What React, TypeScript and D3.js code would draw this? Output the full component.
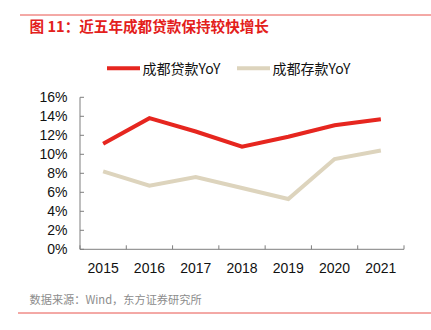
import React from "react";
import * as d3 from "d3";

const years = ["2015", "2016", "2017", "2018", "2019", "2020", "2021"];
const loanYoY = [11.1, 13.8, 12.4, 10.8, 11.85, 13.05, 13.7];
const depositYoY = [8.2, 6.7, 7.6, 6.45, 5.3, 9.5, 10.4];
const yTicks = [0, 2, 4, 6, 8, 10, 12, 14, 16];
const seriesNames = ["成都贷款YoY", "成都存款YoY"];

const W = 431;
const H = 330;
const left = 80;
const right = 404;
const top = 97.3;
const bottom = 249.3;
const RED = "#e6261f";
const BEIGE = "#ddd4bd";
const FONT = "'Liberation Sans', Arial, sans-serif";
const CJK = "'Noto Sans CJK SC', 'Liberation Sans', sans-serif";

export default function App() {
  const x = d3.scaleBand<string>().domain(years).range([left, right]);
  const y = d3.scaleLinear().domain([0, 16]).range([bottom, top]);
  const line = d3
    .line<number>()
    .x((_, i) => (x(years[i]) as number) + x.bandwidth() / 2)
    .y((d) => y(d));

  return (
    <svg width={W} height={H} style={{ position: "absolute", left: 0, top: 0, background: "#fff" }}>
      <line x1={20} x2={431} y1={15} y2={15} stroke="#e8534d" strokeWidth={1} />
      <text x={29.5} y={31.5} fill="#e3201b" fontSize={14.6} fontWeight="bold" fontFamily={CJK}>
        图 11：近五年成都贷款保持较快增长
      </text>

      {/* legend */}
      <line x1={107} x2={140} y1={68.3} y2={68.3} stroke={RED} strokeWidth={4} />
      <text x={142.5} y={73.5} fontSize={14} fontFamily={CJK} fill="#111">{seriesNames[0]}</text>
      <line x1={237} x2={270} y1={68.3} y2={68.3} stroke={BEIGE} strokeWidth={4} />
      <text x={272.5} y={73.5} fontSize={14} fontFamily={CJK} fill="#111">{seriesNames[1]}</text>

      {/* y axis */}
      <line x1={left} x2={left} y1={top} y2={bottom} stroke="#7f7f7f" strokeWidth={1} />
      {yTicks.map((t) => (
        <g key={t}>
          <line x1={left} x2={left + 4} y1={y(t)} y2={y(t)} stroke="#7f7f7f" />
          <text x={67.5} y={y(t) + 5} textAnchor="end" fontSize={14} fontFamily={FONT} fill="#111">
            {t}%
          </text>
        </g>
      ))}

      {/* x axis */}
      <line x1={left} x2={right} y1={bottom} y2={bottom} stroke="#7f7f7f" strokeWidth={1} />
      {years.map((yr) => (
        <g key={yr}>
          <line x1={x(yr) as number} x2={x(yr) as number} y1={bottom} y2={bottom - 4} stroke="#7f7f7f" />
          <text
            x={(x(yr) as number) + x.bandwidth() / 2}
            y={272.5}
            textAnchor="middle"
            fontSize={14}
            fontFamily={FONT}
            fill="#111"
          >
            {yr}
          </text>
        </g>
      ))}
      <line x1={right} x2={right} y1={bottom} y2={bottom - 4} stroke="#7f7f7f" />

      <path d={line(depositYoY) || ""} fill="none" stroke={BEIGE} strokeWidth={4} />
      <path d={line(loanYoY) || ""} fill="none" stroke={RED} strokeWidth={4} />

      <text x={29.5} y={304} fontSize={11.2} fontFamily={CJK} fill="#8c8c8c">
        数据来源：Wind，东方证券研究所
      </text>
      <line x1={18} x2={431} y1={313} y2={313} stroke="#e8534d" strokeWidth={1} />
    </svg>
  );
}
